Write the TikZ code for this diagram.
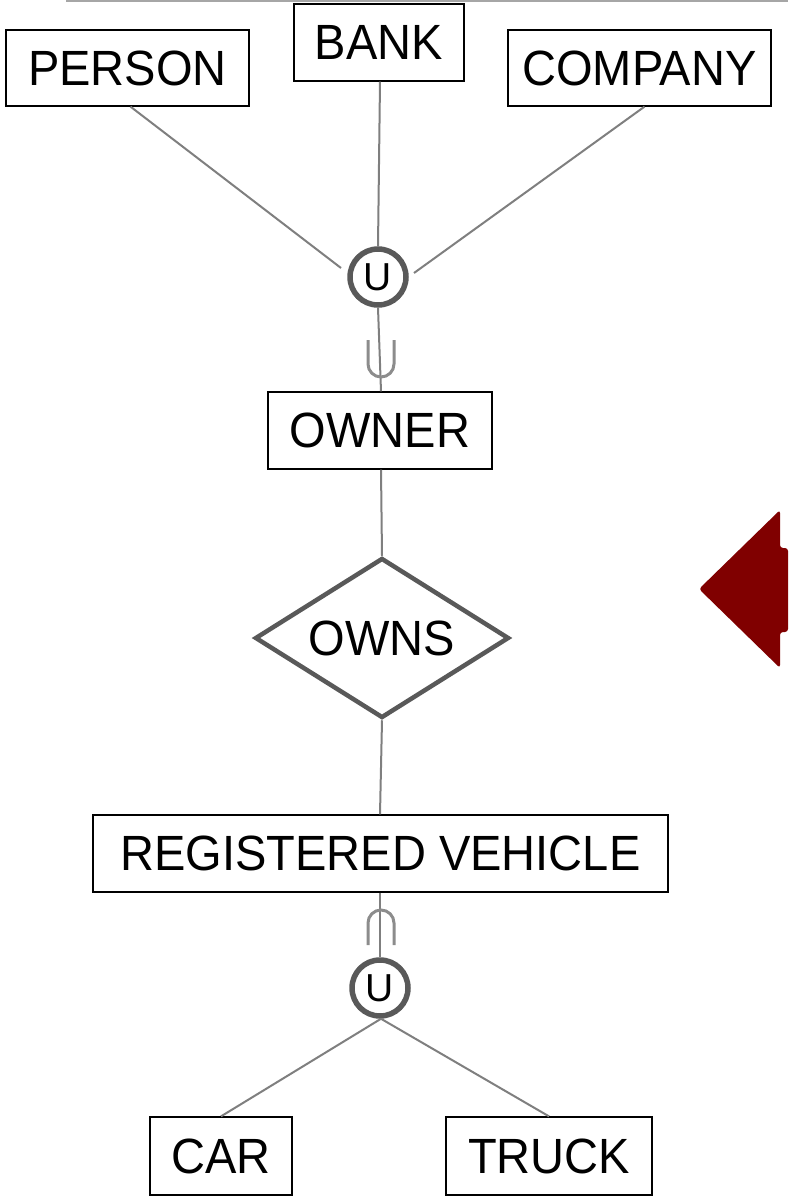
\documentclass[tikz,border=0pt]{standalone}
\usepackage{fontspec}
\setmainfont{Liberation Sans}
\newfontfamily\erfont[FakeStretch=0.95]{Liberation Sans}
\usetikzlibrary{shapes.geometric}
\definecolor{linegray}{HTML}{7F7F7F}
\definecolor{darkgray}{HTML}{595959}
\definecolor{symgray}{HTML}{8C8C8C}
\definecolor{topgray}{HTML}{A6A6A6}
\definecolor{arrowred}{HTML}{800000}
\tikzset{
  ent/.style={draw=black, line width=1.3pt, inner sep=0pt, minimum height=76pt,
    font=\erfont\fontsize{49.5pt}{58pt}\selectfont, text=black},
  rel/.style={diamond, draw=darkgray, line width=4.5pt, aspect=1.5875, inner sep=0pt,
    minimum width=254pt, minimum height=160pt, font=\erfont\fontsize{49.5pt}{58pt}\selectfont},
  uni/.style={circle, draw=darkgray, line width=5.5pt, minimum size=56pt, inner sep=0pt,
    font=\fontsize{39pt}{42pt}\selectfont},
  conn/.style={draw=linegray, line width=2pt},
  sym/.style={draw=symgray, line width=3pt},
}
\begin{document}
\begin{tikzpicture}[x=1pt,y=-1pt]
\useasboundingbox (0,0) rectangle (788,1196);
% top rule
\coordinate (tl) at (66,1);
\coordinate (tr) at (788,1);
\draw[topgray, line width=1.5pt] (tl) -- (tr);

% entities
\node[ent, minimum width=243pt] (person) at (127.5,68) {PERSON};
\node[ent, minimum width=170pt, minimum height=77pt] (bank) at (379,42.5) {BANK};
\node[ent, minimum width=263pt] (company) at (639.5,68) {COMPANY};
\node[uni] (u1) at (378,277) {U};
\node[ent, minimum width=224pt, minimum height=77pt] (owner) at (380,430.5) {OWNER};
\node[rel] (owns) at (382,638) {OWNS};
\node[ent, minimum width=575pt, minimum height=77pt] (reg) at (380.5,853.5) {REGISTERED VEHICLE};
\node[uni] (u2) at (380,988) {U};
\node[ent, minimum width=142pt, minimum height=78pt] (car) at (221,1156) {CAR};
\node[ent, minimum width=206pt, minimum height=78pt] (truck) at (549,1156) {TRUCK};

% connectors
\coordinate (pl) at (341,268);
\coordinate (cl) at (414,273);
\draw[conn] ([xshift=3pt]person.south) -- (pl);
\draw[conn] ([xshift=1pt]bank.south) -- (u1.north);
\draw[conn] ([xshift=5pt]company.south) -- (cl);
\draw[conn] (u1.south) -- ([xshift=1pt]owner.north);
\draw[conn] ([xshift=1pt]owner.south) -- (owns.north);
\draw[conn] (owns.south) -- ([xshift=-0.5pt]reg.north);
\draw[conn] ([xshift=-0.5pt]reg.south) -- (u2.north);
\draw[conn] ([xshift=1pt]u2.south) -- (car.north);
\draw[conn] ([xshift=1pt]u2.south) -- (truck.north);

% subset symbols
\draw[sym] (368,340) -- (368,364) arc[start angle=180, end angle=360, radius=13pt] -- (394,340);
\draw[sym] (368,945) -- (368,923) arc[start angle=180, end angle=0, radius=13pt] -- (394,945);

% red arrow
\fill[arrowred, rounded corners=3pt] (788,548) -- (780,548) -- (780,510) -- (699,589) -- (780,668) -- (780,632) -- (788,632) -- cycle;
\end{tikzpicture}
\end{document}
